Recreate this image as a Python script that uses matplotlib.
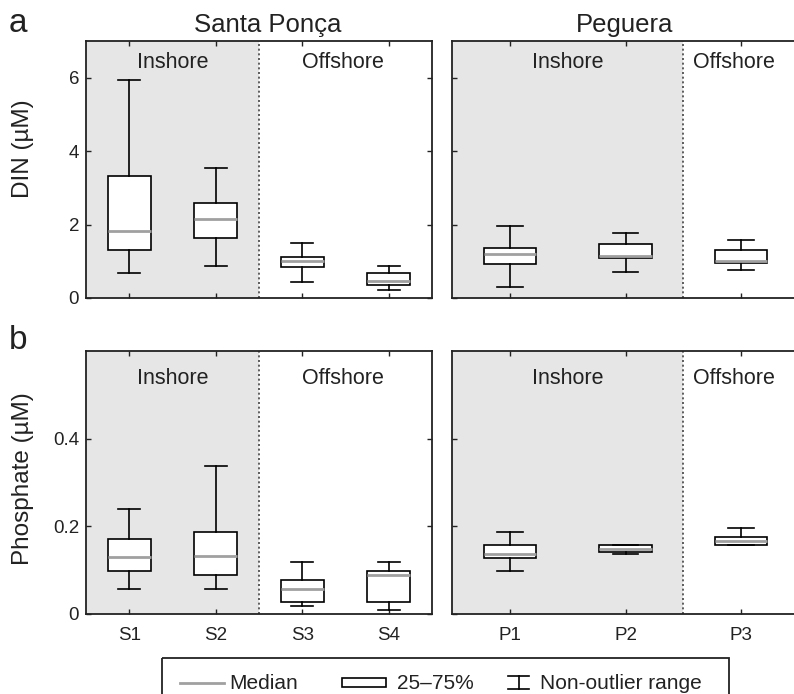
import matplotlib
matplotlib.use("Agg")
import matplotlib.pyplot as plt
from matplotlib.patches import Rectangle

plt.rcParams["font.family"] = ["Liberation Sans", "DejaVu Sans"]
plt.rcParams["text.color"] = "#222222"

# station labels
santa_sites = ["S1", "S2", "S3", "S4"]
peg_sites = ["P1", "P2", "P3"]

# DIN (uM) box stats
din_santa_lo = [0.69, 0.87, 0.44, 0.22]
din_santa_q1 = [1.32, 1.64, 0.84, 0.35]
din_santa_med = [1.82, 2.14, 1.01, 0.47]
din_santa_q3 = [3.33, 2.58, 1.12, 0.68]
din_santa_hi = [5.93, 3.55, 1.50, 0.87]

din_peg_lo = [0.31, 0.71, 0.76]
din_peg_q1 = [0.92, 1.09, 0.95]
din_peg_med = [1.20, 1.14, 1.01]
din_peg_q3 = [1.36, 1.46, 1.30]
din_peg_hi = [1.95, 1.76, 1.59]

# Phosphate (uM)
phos_santa_lo = [0.058, 0.058, 0.018, 0.008]
phos_santa_q1 = [0.098, 0.088, 0.028, 0.028]
phos_santa_med = [0.129, 0.133, 0.058, 0.088]
phos_santa_q3 = [0.170, 0.188, 0.078, 0.098]
phos_santa_hi = [0.239, 0.338, 0.118, 0.118]

phos_peg_lo = [0.098, 0.138, 0.157]
phos_peg_q1 = [0.128, 0.141, 0.157]
phos_peg_med = [0.138, 0.149, 0.167]
phos_peg_q3 = [0.158, 0.158, 0.176]
phos_peg_hi = [0.188, 0.158, 0.197]

EDGE = "#222222"
SHADE = "#e6e6e6"
W, H = 794, 694


def make_stats(labels, lo, q1, med, q3, hi):
    return [
        {"label": lab, "whislo": a, "q1": b, "med": c, "q3": d, "whishi": e, "fliers": []}
        for lab, a, b, c, d, e in zip(labels, lo, q1, med, q3, hi)
    ]


def px_axes(fig, x0, y0, x1, y1):
    # pixel box (top-left origin) -> figure axes
    return fig.add_axes([x0 / W, 1 - y1 / H, (x1 - x0) / W, (y1 - y0) / H])


def draw_panel(ax, stats, n_inshore, box_w, cap_w, ylim, yticks, ytick_labels,
               show_xlabels, show_ylabels, label_y, offshore_x):
    n = len(stats)
    ax.axvspan(0.5, n_inshore + 0.5, color=SHADE, zorder=0, lw=0)
    ax.axvline(n_inshore + 0.5, color="#444444", ls=(0, (1.2, 1.6)), lw=1.2, zorder=1)
    ax.bxp(
        stats,
        positions=range(1, n + 1),
        widths=box_w,
        capwidths=cap_w,
        showfliers=False,
        patch_artist=True,
        boxprops=dict(facecolor="white", edgecolor="black", linewidth=1.2),
        whiskerprops=dict(color="black", linewidth=1.2),
        capprops=dict(color="black", linewidth=1.2),
        medianprops=dict(color="#a0a0a0", linewidth=2.0),
        manage_ticks=False,
        zorder=3,
    )
    ax.set_xlim(0.5, n + 0.5)
    ax.set_ylim(*ylim)
    ax.set_xticks(range(1, n + 1))
    ax.set_yticks(yticks)
    if show_xlabels:
        ax.set_xticklabels([s["label"] for s in stats])
    else:
        ax.set_xticklabels([])
    if show_ylabels:
        ax.set_yticklabels(ytick_labels)
    else:
        ax.set_yticklabels([])
    ax.tick_params(direction="in", length=3.5, width=1.0, color=EDGE,
                   top=True, right=True, labelsize=13.5, labelcolor="#222222")
    ax.tick_params(axis="x", pad=9)
    ax.tick_params(axis="y", pad=5)
    for sp in ax.spines.values():
        sp.set_color(EDGE)
        sp.set_linewidth(1.3)
    ax.text((n_inshore + 1) / 2, label_y, "Inshore", fontsize=15.5,
            ha="center", va="center", transform=ax.get_xaxis_transform())
    ax.text(offshore_x, label_y, "Offshore", fontsize=15.5,
            ha="center", va="center", transform=ax.get_xaxis_transform())


fig = plt.figure(figsize=(W / 100, H / 100), dpi=100)

ax_a1 = px_axes(fig, 86, 41, 432, 298)
ax_a2 = px_axes(fig, 452, 41, 799, 298)
ax_b1 = px_axes(fig, 86, 351, 432, 614)
ax_b2 = px_axes(fig, 452, 351, 799, 614)

din_ticks = [0, 2, 4, 6]
phos_ticks = [0, 0.2, 0.4]

draw_panel(ax_a1, make_stats(santa_sites, din_santa_lo, din_santa_q1, din_santa_med,
                             din_santa_q3, din_santa_hi),
           2, 0.5, 0.25, (0, 7), din_ticks, ["0", "2", "4", "6"], False, True, 0.915, 3.47)
draw_panel(ax_a2, make_stats(peg_sites, din_peg_lo, din_peg_q1, din_peg_med,
                             din_peg_q3, din_peg_hi),
           2, 0.45, 0.22, (0, 7), din_ticks, [], False, False, 0.915, 2.94)
draw_panel(ax_b1, make_stats(santa_sites, phos_santa_lo, phos_santa_q1, phos_santa_med,
                             phos_santa_q3, phos_santa_hi),
           2, 0.5, 0.25, (0, 0.6), phos_ticks, ["0", "0.2", "0.4"], True, True, 0.895, 3.47)
draw_panel(ax_b2, make_stats(peg_sites, phos_peg_lo, phos_peg_q1, phos_peg_med,
                             phos_peg_q3, phos_peg_hi),
           2, 0.45, 0.22, (0, 0.6), phos_ticks, [], True, False, 0.895, 2.94)

# titles, panel letters, y labels
fig.text(268 / W, 1 - 32 / H, "Santa Ponça", fontsize=18.5, ha="center", va="baseline")
fig.text(625 / W, 1 - 32 / H, "Peguera", fontsize=18.5, ha="center", va="baseline")
fig.text(9 / W, 1 - 32 / H, "a", fontsize=24, ha="left", va="baseline")
fig.text(9 / W, 1 - 349 / H, "b", fontsize=24, ha="left", va="baseline")
fig.text(23 / W, 1 - 149 / H, "DIN (µM)", fontsize=17.5, rotation=90, ha="center", va="center")
fig.text(23 / W, 1 - 479 / H, "Phosphate (µM)", fontsize=17.5, rotation=90, ha="center", va="center")

# hand-drawn legend at the bottom
lg = fig.add_axes([0, 0, 1, 1], facecolor="none")
lg.set_xlim(0, W)
lg.set_ylim(H, 0)
lg.axis("off")
lg.add_patch(Rectangle((162, 658), 567, 60, fill=False, ec=EDGE, lw=1.3))
lg.plot([180, 224], [683, 683], color="#a0a0a0", lw=2.0)
lg.add_patch(Rectangle((342, 678), 44, 9, fill=False, ec="black", lw=1.2))
lg.plot([508, 529], [676, 676], color="black", lw=1.2)
lg.plot([508, 529], [689, 689], color="black", lw=1.2)
lg.plot([518.5, 518.5], [676, 689], color="black", lw=1.2)
lg.text(229, 689, "Median", fontsize=15, ha="left", va="baseline")
lg.text(397, 689, "25–75%", fontsize=15, ha="left", va="baseline")
lg.text(540, 689, "Non-outlier range", fontsize=15, ha="left", va="baseline")

fig.savefig("out.png", dpi=100)
